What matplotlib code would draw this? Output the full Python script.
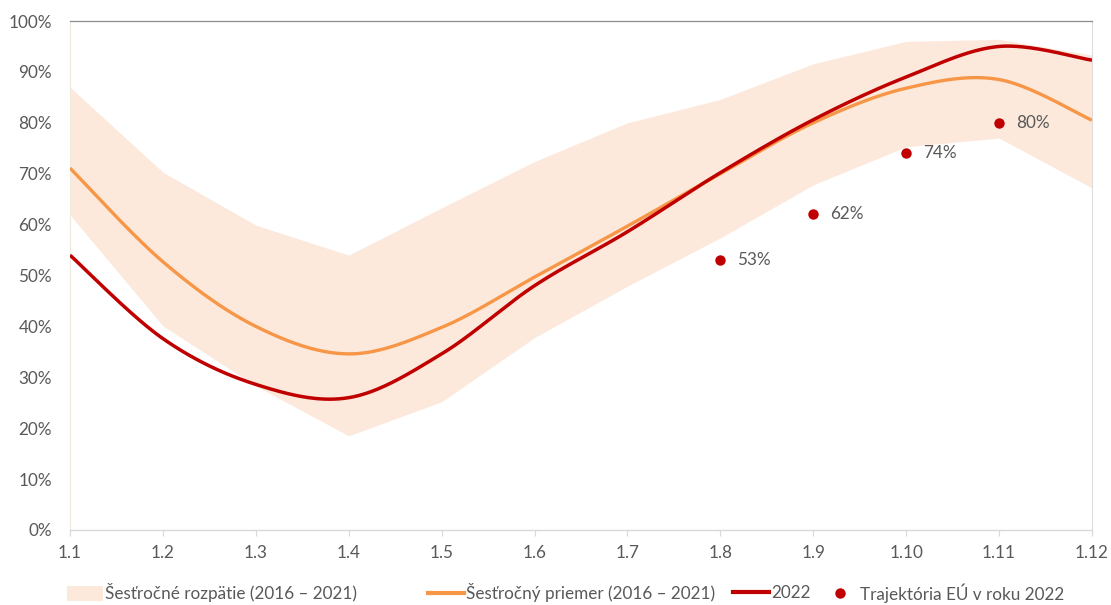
import numpy as np
import matplotlib
matplotlib.use("Agg")
import matplotlib.pyplot as plt
from matplotlib.patches import Patch
from matplotlib.lines import Line2D

plt.rcParams['font.family'] = ['Lato', 'DejaVu Sans']

categories = ["1.1", "1.2", "1.3", "1.4", "1.5", "1.6", "1.7", "1.8", "1.9", "1.10", "1.11", "1.12"]
band_upper = [87.0, 70.3, 59.9, 54.0, 63.3, 72.4, 80.0, 84.6, 91.6, 96.0, 96.4, 93.3]
band_lower = [61.9, 40.1, 28.3, 18.5, 25.2, 37.8, 47.9, 57.4, 67.8, 75.3, 77.0, 67.2]
mean_2016_2021 = [71.1, 52.7, 40.0, 34.6, 39.8, 49.7, 59.7, 70.0, 80.0, 86.8, 88.5, 80.5]
year_2022 = [54.0, 37.6, 28.6, 26.0, 34.6, 48.0, 58.6, 70.2, 80.6, 89.0, 95.0, 92.3]
eu_cats = ["1.8", "1.9", "1.10", "1.11"]
eu_values = [53, 62, 74, 80]

labels = ["Šesťročné rozpätie (2016 – 2021)", "Šesťročný priemer (2016 – 2021)", "2022", "Trajektória EÚ v roku 2022"]

C_BAND = "#FCE9DC"
C_ORANGE = "#F79646"
C_RED = "#C00000"
C_TEXT = "#595959"
FS = 12.3


def excel_smooth(y, n=40):
    y = np.asarray(y, float) / 100.0
    x = np.arange(len(y), dtype=float)
    P = np.column_stack([x, y])
    out = []
    for i in range(len(P) - 1):
        p0 = P[i - 1] if i > 0 else P[i]
        p1 = P[i]
        p2 = P[i + 1]
        p3 = P[i + 2] if i + 2 < len(P) else P[i + 1]
        c1 = p1 + (p2 - p0) / 6.0
        c2 = p2 - (p3 - p1) / 6.0
        t = np.linspace(0, 1, n)[:, None]
        seg = ((1 - t) ** 3) * p1 + 3 * ((1 - t) ** 2) * t * c1 + 3 * (1 - t) * t ** 2 * c2 + t ** 3 * p2
        out.append(seg if i == 0 else seg[1:])
    s = np.vstack(out)
    return s[:, 0], s[:, 1]


fig = plt.figure(figsize=(11.11, 6.05), dpi=100)
ax = fig.add_axes([70 / 1111, 75 / 605, 1022 / 1111, 509 / 605])

xi = np.arange(len(categories))
ax.fill_between(xi, np.array(band_lower) / 100, np.array(band_upper) / 100, color=C_BAND, lw=0, zorder=1)

mx, my = excel_smooth(mean_2016_2021)
ax.plot(mx, my, color=C_ORANGE, lw=2.4, zorder=3, solid_capstyle='butt')
rx, ry = excel_smooth(year_2022)
ax.plot(rx, ry, color=C_RED, lw=2.5, zorder=4, solid_capstyle='butt')

ex = [categories.index(c) for c in eu_cats]
ev = np.array(eu_values) / 100
ax.plot(ex, ev, 'o', color=C_RED, ms=7.5, zorder=5, mec='none')
for x, v, lab in zip(ex, ev, eu_values):
    ax.annotate(f"{lab}%", (x, v), xytext=(12, 0), textcoords='offset points',
                va='center', ha='left', fontsize=FS, color=C_TEXT)

ax.set_xlim(0, len(categories) - 1)
ax.set_ylim(0, 1)
ax.set_xticks(xi)
ax.set_xticklabels(categories)
ax.set_yticks(np.arange(0, 1.01, 0.1))
ax.set_yticklabels([f"{int(round(v * 100))}%" for v in np.arange(0, 1.01, 0.1)])
ax.tick_params(axis='y', length=0, pad=13, labelsize=FS, labelcolor=C_TEXT)
ax.tick_params(axis='x', length=4, width=0.8, color="#D9D9D9", pad=7, labelsize=FS, labelcolor=C_TEXT)

ax.spines['top'].set_color("#8C8C8C")
ax.spines['top'].set_linewidth(0.9)
ax.spines['right'].set_color("#DDDDDD")
ax.spines['bottom'].set_color("#D9D9D9")
ax.spines['bottom'].set_linewidth(1.0)
ax.spines['left'].set_color("#F0E9E2")
ax.vlines(0, band_upper[0] / 100, 1, color="#8C8C8C", lw=1.2, zorder=2)

handles = [
    Patch(facecolor=C_BAND, edgecolor='none'),
    Line2D([], [], color=C_ORANGE, lw=3),
    Line2D([], [], color=C_RED, lw=3),
    Line2D([], [], color=C_RED, marker='o', ls='none', ms=7.5, mec='none'),
]
starts = [67, 428, 733, 822]
for h, lab, sx in zip(handles, labels, starts):
    fig.legend([h], [lab], loc='center left', bbox_to_anchor=(sx / 1111, 1 - 593 / 605),
               frameon=False, fontsize=FS, handlelength=2.1, handleheight=1.0,
               handletextpad=0.15, borderpad=0, borderaxespad=0, labelcolor=C_TEXT)

fig.savefig("out.png", dpi=100)
